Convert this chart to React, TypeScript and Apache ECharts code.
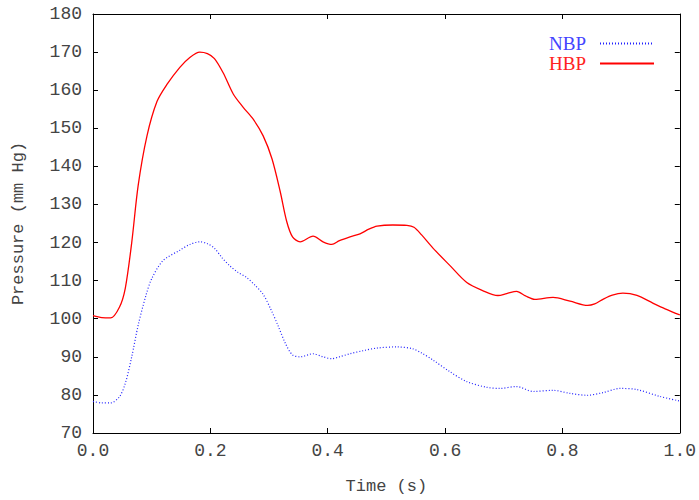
import React, { useEffect, useRef } from "react";
import * as echarts from "echarts";

const hbpTime = [0.0, 0.015, 0.03, 0.045, 0.055, 0.066, 0.077, 0.092, 0.109, 0.126, 0.148, 0.165, 0.182, 0.195, 0.207, 0.222, 0.239, 0.256, 0.273, 0.29, 0.305, 0.319, 0.33, 0.34, 0.353, 0.375, 0.392, 0.407, 0.42, 0.438, 0.455, 0.47, 0.484, 0.511, 0.535, 0.547, 0.56, 0.579, 0.608, 0.637, 0.664, 0.69, 0.705, 0.722, 0.737, 0.753, 0.784, 0.813, 0.843, 0.855, 0.869, 0.885, 0.903, 0.927, 0.954, 0.975, 1.0];
const hbpValues = [100.8, 100.3, 100.2, 103, 108, 120, 135, 148, 157, 161.5, 166, 168.6, 170, 169.6, 168.3, 164.5, 159, 155.5, 152.4, 148, 142, 133.4, 125.6, 121.5, 120.2, 121.7, 120.2, 119.5, 120.5, 121.5, 122.3, 123.5, 124.3, 124.6, 124.5, 124, 122, 118.6, 114, 109.5, 107.4, 106.1, 106.6, 107.2, 106, 105.1, 105.6, 104.6, 103.5, 103.9, 105.1, 106.2, 106.7, 106.1, 104.1, 102.6, 101];

const nbpTime = [0.0, 0.015, 0.03, 0.045, 0.055, 0.066, 0.077, 0.09, 0.1, 0.119, 0.148, 0.165, 0.182, 0.195, 0.207, 0.22, 0.233, 0.247, 0.262, 0.276, 0.29, 0.303, 0.315, 0.328, 0.34, 0.353, 0.375, 0.392, 0.407, 0.42, 0.438, 0.46, 0.484, 0.518, 0.545, 0.56, 0.579, 0.608, 0.637, 0.671, 0.693, 0.722, 0.75, 0.784, 0.813, 0.842, 0.869, 0.898, 0.927, 0.966, 1.0];
const nbpValues = [78.3, 77.9, 77.9, 79.5, 83, 90, 98.3, 106, 110.5, 115.2, 118, 119.5, 120.2, 119.7, 118.5, 116, 113.9, 112.2, 110.8, 108.8, 106.4, 102.5, 98.3, 93.5, 90.5, 90, 90.8, 90, 89.5, 90, 90.8, 91.6, 92.3, 92.6, 92.1, 91, 89.2, 86.1, 83.5, 82, 81.7, 82.2, 80.9, 81.2, 80.4, 79.9, 80.6, 81.7, 81.4, 79.6, 78.4];

const seriesNames = ["NBP", "HBP"];
const xTitle = "Time (s)";
const yTitle = "Pressure (mm Hg)";

const monoFont = "'Liberation Mono', monospace";
const serifFont = "'Liberation Serif', serif";
const textColor = "#444";

export default function App() {
  const ref = useRef<HTMLDivElement>(null);

  useEffect(() => {
    if (!ref.current) return;
    const chart = echarts.init(ref.current, null, { renderer: "svg" });
    const nbp = nbpTime.map((t, i) => [t, nbpValues[i]]);
    const hbp = hbpTime.map((t, i) => [t, hbpValues[i]]);

    const baseX = {
      type: "value",
      min: 0,
      max: 1,
      interval: 0.2,
      splitLine: { show: false },
      axisLine: { show: true, onZero: false, lineStyle: { color: "#000", width: 1 } },
      axisTick: { show: true, inside: true, length: 5, lineStyle: { color: "#000" } },
    };
    const baseY = {
      type: "value",
      min: 70,
      max: 180,
      interval: 10,
      splitLine: { show: false },
      axisLine: { show: true, onZero: false, lineStyle: { color: "#000", width: 1 } },
      axisTick: { show: true, inside: true, length: 5, lineStyle: { color: "#000" } },
    };

    chart.setOption({
      animation: false,
      backgroundColor: "#fff",
      grid: { left: 93, right: 19, top: 14, bottom: 63, containLabel: false },
      legend: {
        show: true,
        right: 44,
        top: 34,
        padding: 0,
        orient: "vertical",
        align: "right",
        itemWidth: 54,
        itemHeight: 14,
        itemGap: 1,
        itemStyle: { opacity: 0 },
        textStyle: { fontFamily: serifFont, fontSize: 19, padding: [0, 9, 0, 0] },
        data: [
          { name: "NBP", textStyle: { color: "#4444ff" } },
          { name: "HBP", textStyle: { color: "#ff2222" } },
        ],
      },
      xAxis: [
        {
          ...baseX,
          position: "bottom",
          name: xTitle,
          nameLocation: "middle",
          nameGap: 45,
          nameTextStyle: { fontFamily: monoFont, fontSize: 17, color: textColor },
          axisLabel: {
            show: true,
            margin: 9,
            fontFamily: monoFont,
            fontSize: 18,
            color: textColor,
            showMinLabel: true,
            showMaxLabel: true,
            formatter: (v: number) => v.toFixed(1),
          },
        },
        { ...baseX, position: "top", axisLabel: { show: false } },
      ],
      yAxis: [
        {
          ...baseY,
          position: "left",
          name: yTitle,
          nameLocation: "middle",
          nameGap: 66,
          nameTextStyle: { fontFamily: monoFont, fontSize: 17, color: textColor },
          axisLabel: { show: true, margin: 11, fontFamily: monoFont, fontSize: 18, color: textColor },
        },
        { ...baseY, position: "right", axisLabel: { show: false } },
      ],
      series: [
        {
          name: seriesNames[0],
          type: "line",
          data: nbp,
          smooth: 0.3,
          symbol: "none",
          lineStyle: { color: "#2222ff", width: 1.2, type: [1, 2] },
          itemStyle: { color: "#2222ff" },
        },
        {
          name: seriesNames[1],
          type: "line",
          data: hbp,
          smooth: 0.3,
          symbol: "none",
          lineStyle: { color: "#ff0000", width: 1.3, type: "solid" },
          itemStyle: { color: "#ff0000" },
        },
      ],
    });
    return () => chart.dispose();
  }, []);

  return <div ref={ref} style={{ width: 699, height: 500, position: "absolute", left: 0, top: 0 }} />;
}
